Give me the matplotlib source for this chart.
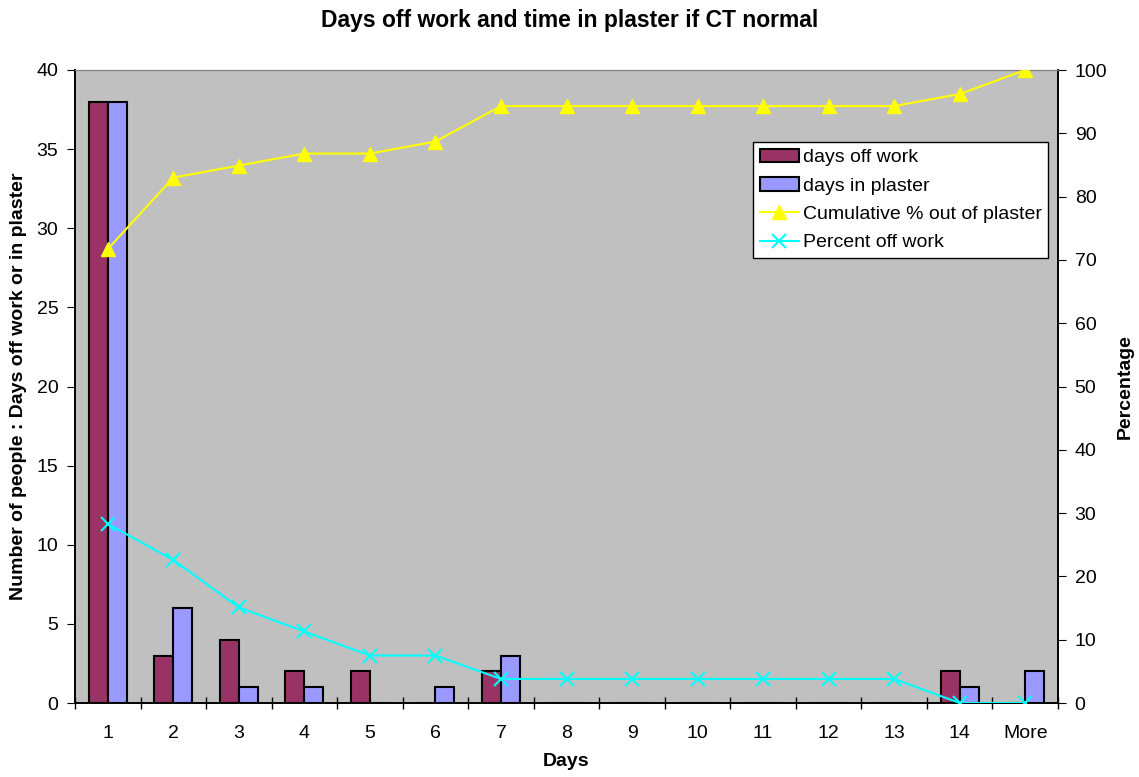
import matplotlib
matplotlib.use("Agg")
import matplotlib.pyplot as plt
import numpy as np

plt.rcParams['font.family'] = ['Liberation Sans', 'DejaVu Sans']

categories = ['1', '2', '3', '4', '5', '6', '7', '8', '9', '10', '11', '12', '13', '14', 'More']
days_off_work = [38, 3, 4, 2, 2, 0, 2, 0, 0, 0, 0, 0, 0, 2, 0]
days_in_plaster = [38, 6, 1, 1, 0, 1, 3, 0, 0, 0, 0, 0, 0, 1, 2]
cumulative_out = [71.7, 83.0, 84.9, 86.8, 86.8, 88.7, 94.3, 94.3, 94.3, 94.3, 94.3, 94.3, 94.3, 96.2, 100.0]
percent_off = [28.3, 22.6, 15.1, 11.3, 7.5, 7.5, 3.8, 3.8, 3.8, 3.8, 3.8, 3.8, 3.8, 0.0, 0.0]

fig = plt.figure(figsize=(11.39, 7.77), dpi=100)
ax = fig.add_axes([75/1139, 1-703/777, (1058-75)/1139, (703-70)/777])
ax.set_facecolor('#c0c0c0')
x = np.arange(len(categories))
w = 0.29
b1 = ax.bar(x - w/2, days_off_work, w, color='#993366', edgecolor='black', linewidth=1.5, label='days off work', zorder=2)
b2 = ax.bar(x + w/2, days_in_plaster, w, color='#9999ff', edgecolor='black', linewidth=1.5, label='days in plaster', zorder=2)
ax.set_xlim(-0.5, len(categories) - 0.5)
ax.set_ylim(0, 40)
ax.set_yticks(range(0, 41, 5))
ax.set_xticks(x)
ax.set_xticklabels(categories)
ax.set_xticks(np.arange(-0.5, len(categories), 1), minor=True)
ax.tick_params(axis='x', which='major', length=0, pad=16, labelsize=14)
ax.tick_params(axis='x', which='minor', length=9, direction='inout', width=1)
ax.tick_params(axis='y', length=6, direction='out', labelsize=14, pad=6)
ax.set_ylabel('Number of people : Days off work or in plaster', fontsize=14, fontweight='bold')
ax.yaxis.set_label_coords((27-75)/983, 0.5)
ax.set_xlabel('Days', fontsize=14, fontweight='bold', labelpad=8)
for s in ['left', 'bottom', 'right']:
    ax.spines[s].set_color('black')
    ax.spines[s].set_linewidth(1.2)
ax.spines['top'].set_color('#808080')

ax2 = ax.twinx()
ax2.set_ylim(0, 100)
ax2.set_yticks(range(0, 101, 10))
l1, = ax2.plot(x, cumulative_out, color='#ffff00', marker='^', markersize=10, linewidth=1.5, label='Cumulative % out of plaster', zorder=3)
l2, = ax2.plot(x, percent_off, color='#00ffff', marker='x', markersize=10, markeredgewidth=1.5, linewidth=1.5, label='Percent off work', zorder=3)
ax2.tick_params(axis='y', length=6, direction='out', labelsize=14, pad=6)
ax2.set_ylabel('Percentage', fontsize=14, fontweight='bold')
ax2.yaxis.set_label_coords((1117-75)/983, 0.5)
for s in ['left', 'bottom', 'right']:
    ax2.spines[s].set_color('black')
    ax2.spines[s].set_linewidth(1.2)
ax2.spines['top'].set_color('#808080')

leg = ax2.legend(handles=[b1, b2, l1, l2], loc='upper left',
                 bbox_to_anchor=((753-75)/(1058-75), 1-(142-70)/(703-70)),
                 frameon=True, fancybox=False, edgecolor='black', framealpha=1,
                 fontsize=14, borderpad=0.35, labelspacing=0.55, handlelength=2.0,
                 handletextpad=0.2, borderaxespad=0)
leg.get_frame().set_linewidth(1.0)

fig.suptitle('Days off work and time in plaster if CT normal', fontsize=16.5, fontweight='bold', y=1-20/777, va='center')

fig.savefig('out.png', dpi=100)
